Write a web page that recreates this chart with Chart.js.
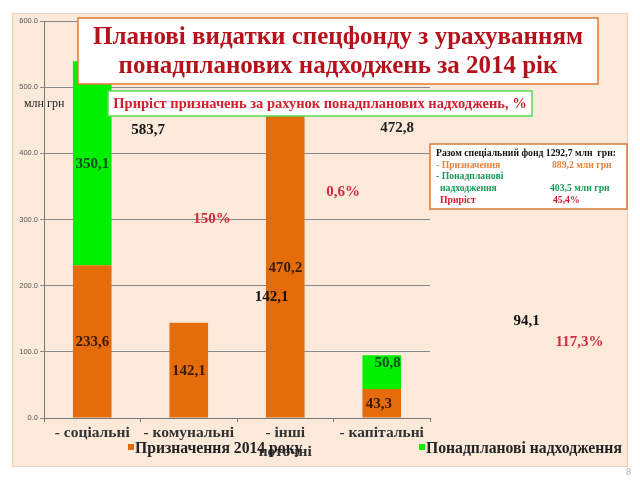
<!DOCTYPE html>
<html>
<head>
<meta charset="utf-8">
<script src="https://cdn.jsdelivr.net/npm/chart.js@4"></script>
<style>
  html, body { margin: 0; padding: 0; background: #fff; }
  #wrap { width: 640px; height: 480px; position: relative; }
</style>
</head>
<body>
<div id="wrap"><canvas id="myChart" width="640" height="480"></canvas></div>
<script>
// categories and series
const categories = [["- соціальні"], ["- комунальні"], ["- інші", "поточні"], ["- капітальні"]];
const planned = [231, 144, 470.2, 43.8];     // Призначення 2014 року
const extra = [308, 0, 2.6, 51];             // Понадпланові надходження
const yTicks = [0, 100, 200, 300, 400, 500, 600];

// printed value labels: text, x (category index), y (axis value)
const valueTexts = ["583,7", "472,8", "350,1", "470,2", "142,1", "233,6", "142,1", "94,1", "50,8", "43,3"];
const valueX = [0.58, 3.16, 0, 2.0, 1.86, 0, 1, 4.5, 3.06, 2.97];
const valueY = [435, 438, 383, 227, 183, 114, 71, 147, 83, 21.5];
const valueColors = ["#111", "#222", "#0b4d1c", "#3a1a05", "#111", "#3a1a05", "#3a1a05", "#111", "#0b4d1c", "#3a1a05"];

// growth percentages
const pctTexts = ["150%", "0,6%", "117,3%"];
const pctX = [1.24, 2.6, 5.05];
const pctY = [300, 341, 114];

const ORANGE = "#e46c0a";
const GREEN = "#00f000";
const SERIF = "'Liberation Serif', 'DejaVu Serif', serif";

const overlay = {
  id: "overlay",
  beforeDraw(chart) {
    const c = chart.ctx;
    c.save();
    c.fillStyle = "#fff";
    c.fillRect(0, 0, 640, 480);
    c.fillStyle = "#fbe9da";
    c.fillRect(12, 13, 616, 454);
    c.strokeStyle = "#e6cdb6";
    c.lineWidth = 1;
    c.strokeRect(12.5, 13.5, 615, 453);
    c.restore();
  },
  afterDraw(chart) {
    const c = chart.ctx;
    const xs = chart.scales.x, ys = chart.scales.y;
    c.save();
    c.textAlign = "center";
    c.textBaseline = "middle";

    // value labels
    c.font = "bold 15px " + SERIF;
    valueTexts.forEach((t, i) => {
      c.fillStyle = valueColors[i];
      c.fillText(t, xs.getPixelForValue(valueX[i]), ys.getPixelForValue(valueY[i]));
    });
    c.fillStyle = "#d42a3c";
    pctTexts.forEach((t, i) => {
      c.fillText(t, xs.getPixelForValue(pctX[i]), ys.getPixelForValue(pctY[i]));
    });

    // unit
    c.font = "12px " + SERIF;
    c.fillStyle = "#222";
    c.textAlign = "left";
    c.fillText("млн грн", 24, 104);

    // title box
    c.fillStyle = "#fff";
    c.fillRect(78, 18, 520, 66);
    c.strokeStyle = "#e07a3a";
    c.lineWidth = 1.5;
    c.strokeRect(78, 18, 520, 66);
    c.fillStyle = "#b5121b";
    c.textAlign = "center";
    c.font = "bold 25px " + SERIF;
    c.fillText("Планові видатки спецфонду з урахуванням", 338, 38);
    c.fillText("понадпланових надходжень за 2014 рік", 338, 67);

    // subtitle box
    c.fillStyle = "#fff";
    c.fillRect(108, 91, 424, 25);
    c.strokeStyle = "#55dd55";
    c.lineWidth = 1.5;
    c.strokeRect(108, 91, 424, 25);
    c.fillStyle = "#d0202e";
    c.font = "bold 14.5px " + SERIF;
    c.fillText("Приріст призначень за рахунок понадпланових надходжень, %", 320, 104);

    // info box
    c.fillStyle = "#fff";
    c.fillRect(430, 144, 197, 65);
    c.strokeStyle = "#d8783a";
    c.lineWidth = 1.5;
    c.strokeRect(430, 144, 197, 65);
    c.textAlign = "left";
    c.font = "bold 9.7px " + SERIF;
    c.fillStyle = "#111";
    c.fillText("Разом спеціальний фонд 1292,7 млн  грн:", 436, 153);
    c.fillStyle = "#e8833a";
    c.fillText("- Призначення", 436, 165);
    c.fillText("889,2 млн грн", 552, 165);
    c.fillStyle = "#1a9a5a";
    c.fillText("- Понадпланові", 436, 176);
    c.fillText("надходження", 440, 188);
    c.fillText("403,5 млн грн", 550, 188);
    c.fillStyle = "#d0203a";
    c.fillText("Приріст", 440, 200);
    c.fillText("45,4%", 553, 200);

    // legend
    c.font = "bold 15.7px " + SERIF;
    c.fillStyle = ORANGE;
    c.fillRect(128, 444, 6, 6);
    c.fillStyle = GREEN;
    c.fillRect(419, 444, 6, 6);
    c.fillStyle = "#222";
    c.fillText("Призначення 2014 року", 135, 449);
    c.fillText("Понадпланові надходження", 426, 449);

    // slide number
    c.font = "10px " + SERIF;
    c.fillStyle = "#aaa";
    c.fillText("8", 626, 472);
    c.restore();
  }
};

const ctx = document.getElementById("myChart").getContext("2d");
const myChart = new Chart(ctx, {
  type: "bar",
  data: {
    labels: categories,
    datasets: [
      { label: "Призначення 2014 року", data: planned, backgroundColor: ORANGE },
      { label: "Понадпланові надходження", data: extra, backgroundColor: GREEN }
    ]
  },
  options: {
    responsive: false,
    animation: false,
    layout: { padding: { top: 21, right: 210, left: 0, bottom: 0 } },
    plugins: { legend: { display: false }, tooltip: { enabled: false } },
    datasets: { bar: { categoryPercentage: 1, barPercentage: 0.4 } },
    scales: {
      x: {
        stacked: true,
        grid: { offset: true, drawOnChartArea: false, color: "#777", tickLength: 4 },
        border: { color: "#777" },
        ticks: { color: "#333", font: { family: SERIF, size: 15.5, weight: "bold" }, padding: 2, maxRotation: 0 },
        afterFit(s) { s.height = 62; }
      },
      y: {
        stacked: true,
        min: 0,
        max: 600,
        afterBuildTicks(s) { s.ticks = yTicks.map(v => ({ value: v })); },
        grid: { color: "#8a8a8a", tickLength: 4 },
        border: { color: "#777" },
        ticks: {
          color: "#555",
          font: { family: "'Liberation Sans', sans-serif", size: 7.5 },
          padding: 2,
          callback: v => v.toFixed(1)
        },
        afterFit(s) { s.width = 44; }
      }
    }
  },
  plugins: [overlay]
});
</script>
</body>
</html>
